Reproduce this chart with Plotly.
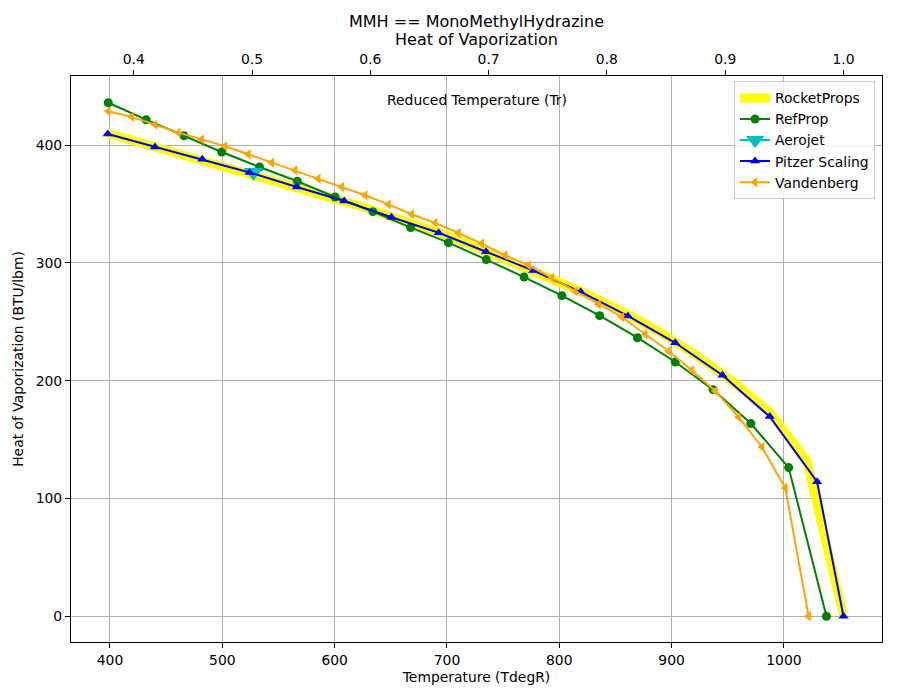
import plotly.graph_objects as go

# ---- data ----
T_crit = 1053.0  # degR, critical temperature used for the reduced-temperature axis

rp_T = [398.0, 430.75, 463.5, 496.25, 529.0, 561.75, 594.5, 627.25, 660.0, 692.75,
        725.5, 758.25, 791.0, 823.75, 856.5, 889.25, 922.0, 954.75, 987.5, 1020.25, 1053.0]
rp_hvap = [410, 401, 393, 384.5, 375.5, 366, 356.5, 347, 336, 326,
           313.5, 301, 288, 274, 258.5, 241.5, 221.5, 199, 173, 132, 0]

ref_T = [398.5, 432.15, 465.8, 499.45, 533.1, 566.75, 600.4, 634.05, 667.7, 701.35,
         735.0, 768.65, 802.3, 835.95, 869.6, 903.25, 936.9, 970.55, 1004.2, 1037.85]
ref_hvap = [436, 421.6, 408, 394.2, 381.4, 369.3, 356, 343.5, 330, 317.2,
            302.8, 288, 272.2, 255.2, 236.5, 215.9, 192.4, 163.6, 126.2, 0]

aj_T = [527.7]
aj_hvap = [377]

pz_T = [398.0, 440.1, 482.2, 524.3, 566.4, 608.5, 650.6, 692.7, 734.8, 776.9,
        819.0, 861.1, 903.2, 945.3, 987.4, 1029.5, 1053.0]
pz_hvap = [409.5, 398.5, 388, 376.8, 364.5, 352.6, 338.8, 325.6, 309.5, 293.5,
           275.5, 255, 232.2, 204.6, 169.5, 114.2, 0]

vb_T = [398.5, 419.3, 440.1, 460.8, 481.6, 502.4, 523.2, 544.0, 564.7, 585.5,
        606.3, 627.1, 647.9, 668.7, 689.4, 710.2, 731.0, 751.8, 772.6, 793.3,
        814.1, 834.9, 855.7, 876.5, 897.2, 918.0, 938.8, 959.6, 980.4, 1001.2, 1022.0]
vb_hvap = [428.7, 424, 417.4, 410.6, 404.9, 399, 392.2, 385.1, 378.6, 371.5,
           364.4, 357.4, 349.7, 341.3, 334, 325.4, 316.4, 306.5, 298, 287.3,
           276, 264.9, 254.1, 239.4, 225.2, 208.8, 191.3, 169.2, 143.7, 108.9, 0]

x_ticks = [400, 500, 600, 700, 800, 900, 1000]
y_ticks = [0, 100, 200, 300, 400]
tr_ticks = [0.4, 0.5, 0.6, 0.7, 0.8, 0.9, 1.0]

x_range = [365.3, 1087.3]
y_range = [-21.85, 458.7]

FONT = "DejaVu Sans"

fig = go.Figure()
fig.add_trace(go.Scatter(x=rp_T, y=rp_hvap, mode="lines", name="RocketProps",
                         line=dict(color="#ffff00", width=9)))
fig.add_trace(go.Scatter(x=ref_T, y=ref_hvap, mode="lines+markers", name="RefProp",
                         line=dict(color="green", width=2),
                         marker=dict(symbol="circle", size=9, color="green")))
fig.add_trace(go.Scatter(x=aj_T, y=aj_hvap, mode="lines+markers", name="Aerojet",
                         line=dict(color="#00bfbf", width=2),
                         marker=dict(symbol="triangle-down", size=17, color="#00bfbf")))
fig.add_trace(go.Scatter(x=pz_T, y=pz_hvap, mode="lines+markers", name="Pitzer Scaling",
                         line=dict(color="blue", width=2),
                         marker=dict(symbol="triangle-up", size=9, color="blue")))
fig.add_trace(go.Scatter(x=vb_T, y=vb_hvap, mode="lines+markers", name="Vandenberg",
                         line=dict(color="orange", width=2),
                         marker=dict(symbol="triangle-left", size=9, color="orange")))
# invisible trace to carry the reduced-temperature axis
fig.add_trace(go.Scatter(x=[x_range[0] / T_crit, x_range[1] / T_crit], y=[0, 0],
                         xaxis="x2", mode="markers", marker=dict(opacity=0),
                         showlegend=False, hoverinfo="skip"))

axis_common = dict(showline=True, linecolor="black", linewidth=1.1,
                   ticks="outside", ticklen=5, tickwidth=1.1, tickcolor="black",
                   tickfont=dict(family=FONT, size=13.9, color="black"),
                   zeroline=False)

title_font = dict(family=FONT, size=16, color="black")
ax_cx = (71 + 882) / 2 / 900

fig.update_layout(
    width=900, height=700,
    paper_bgcolor="white", plot_bgcolor="white",
    margin=dict(l=71, r=18, t=76, b=58),
    title=dict(text="MMH == MonoMethylHydrazine",
               x=ax_cx, xanchor="center",
               y=1 - 21 / 700, yanchor="middle", yref="container",
               font=title_font),
    xaxis=dict(range=x_range, tickvals=x_ticks, showgrid=True, gridcolor="#b0b0b0",
               gridwidth=1.1, mirror=False,
               title=dict(text="Temperature (TdegR)", standoff=5,
                          font=dict(family=FONT, size=13.9, color="black")),
               **axis_common),
    xaxis2=dict(range=[x_range[0] / T_crit, x_range[1] / T_crit], overlaying="x",
                side="top", tickvals=tr_ticks, tickformat=".1f", showgrid=False,
                **axis_common),
    yaxis=dict(range=y_range, tickvals=y_ticks, showgrid=True, gridcolor="#b0b0b0",
               gridwidth=1.1, mirror=True,
               title=dict(text="Heat of Vaporization (BTU/lbm)", standoff=8,
                          font=dict(family=FONT, size=13.9, color="black")),
               **axis_common),
    legend=dict(x=0.9914, y=0.9905, xanchor="right", yanchor="top",
                bgcolor="rgba(255,255,255,0.8)", bordercolor="#cccccc", borderwidth=1,
                font=dict(family=FONT, size=13.9, color="black"),
                tracegroupgap=0),
    showlegend=True,
    annotations=[
        dict(text="Heat of Vaporization", xref="paper", yref="paper",
             x=0.5, y=(642 - 39.5) / 566, xanchor="center", yanchor="middle",
             showarrow=False, font=title_font),
        dict(text="Reduced Temperature (Tr)", xref="paper", yref="paper",
             x=0.5, y=(642 - 100) / 566, xanchor="center", yanchor="middle",
             showarrow=False, font=dict(family=FONT, size=13.9, color="black")),
    ],
)

fig.write_html("out.html")
